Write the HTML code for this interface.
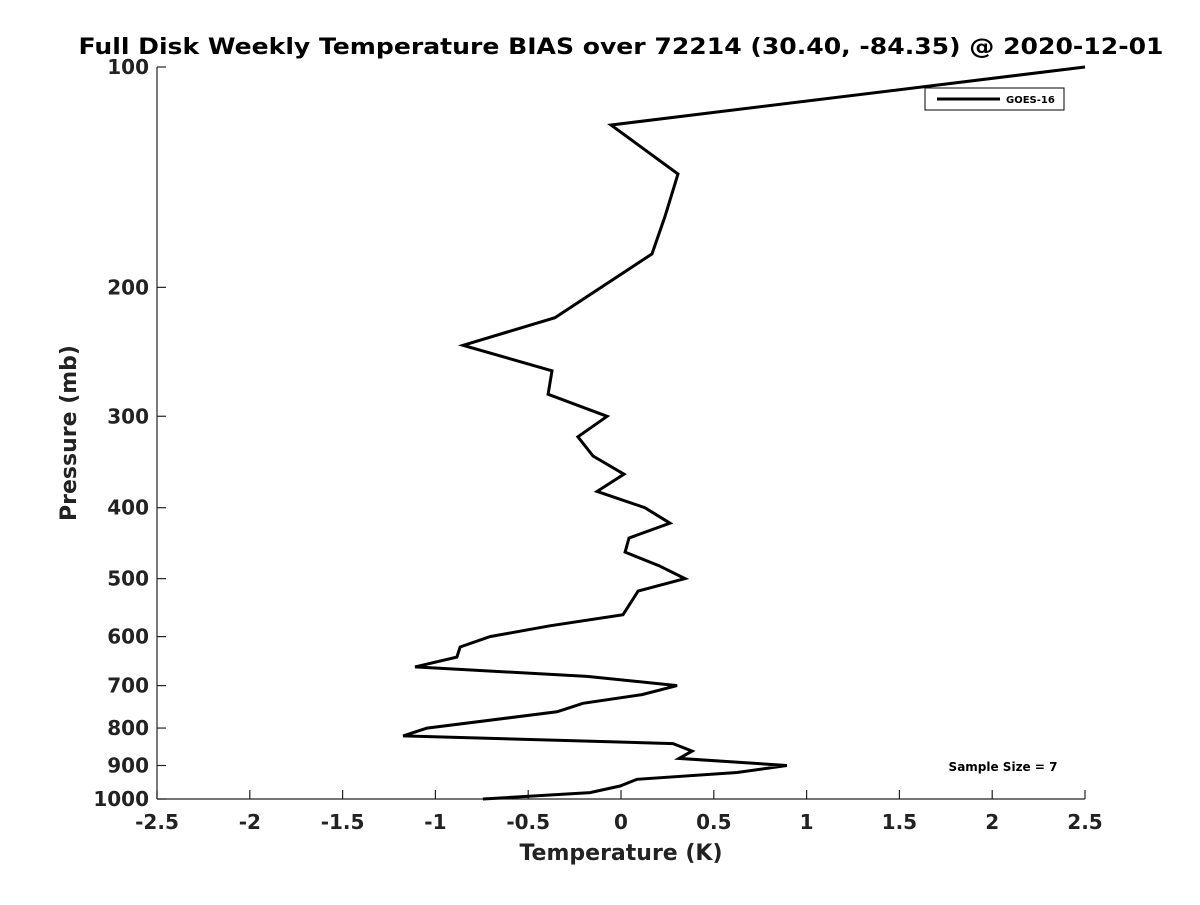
<!DOCTYPE html>
<html><head><meta charset="utf-8"><style>
body{margin:0;background:#fff}
svg{font-family:"DejaVu Sans","Liberation Sans",sans-serif}
</style></head><body>
<svg id="chart" width="1200" height="900">
<rect width="1200" height="900" fill="#fff"/>
<text x="621" y="54" text-anchor="middle" font-size="22" font-weight="bold" fill="#000" textLength="1085" lengthAdjust="spacingAndGlyphs">Full Disk Weekly Temperature BIAS over 72214 (30.40, -84.35) @ 2020-12-01</text>
<g id="axes"></g>
<polyline id="series" fill="none" stroke="#000" stroke-width="3" stroke-linejoin="miter"/>
<g>
<rect x="925" y="88" width="139" height="22" fill="#fff" stroke="#000" stroke-width="1"/>
<line x1="937" y1="99" x2="1000" y2="99" stroke="#000" stroke-width="3"/>
<text x="1006" y="103" font-size="10" font-weight="bold">GOES-16</text>
</g>
<text x="1003" y="771" text-anchor="middle" font-size="12" font-weight="bold">Sample Size = 7</text>
<text x="621" y="860" text-anchor="middle" font-size="22" font-weight="bold" fill="#222">Temperature (K)</text>
<text transform="translate(76,433) rotate(-90)" text-anchor="middle" font-size="22" font-weight="bold" fill="#222">Pressure (mb)</text>
</svg>
<script>
const pressures=[100,120,140,160,180,220,240,260,280,300,320,340,360,380,400,420,440,460,480,500,520,560,580,600,620,640,660,680,700,720,740,760,800,820,840,860,880,900,920,940,960,980,1000];
const bias=[2.5,-0.054,0.307,0.237,0.167,-0.356,-0.851,-0.372,-0.393,-0.075,-0.232,-0.151,0.016,-0.129,0.129,0.264,0.043,0.022,0.205,0.345,0.092,0.011,-0.383,-0.706,-0.867,-0.884,-1.11,-0.183,0.302,0.113,-0.205,-0.345,-1.045,-1.174,0.28,0.383,0.313,0.894,0.625,0.086,-0.005,-0.167,-0.744];
const xTicks=[-2.5,-2,-1.5,-1,-0.5,0,0.5,1,1.5,2,2.5];
const xTickLabels=["-2.5","-2","-1.5","-1","-0.5","0","0.5","1","1.5","2","2.5"];
const yTicks=[100,200,300,400,500,600,700,800,900,1000];
const L=157,R=1085,T=67,B=799;
const xs=v=>L+(v+2.5)/5*(R-L);
const ys=p=>T+Math.log10(p/100)*(B-T);
const NS="http://www.w3.org/2000/svg";
const ax=document.getElementById('axes');
function mk(tag,attrs,parent){const e=document.createElementNS(NS,tag);for(const k in attrs)e.setAttribute(k,attrs[k]);(parent||ax).appendChild(e);return e;}
const xl=mk('line',{x1:L,y1:B,x2:R,y2:B,stroke:'#222','stroke-width':1.2});


const yl=mk('line',{x1:L,y1:T,x2:L,y2:B,stroke:'#222','stroke-width':1.2});


xTicks.forEach((v,i)=>{
 const x=xs(v);
 const t=mk('line',{x1:x,y1:B,x2:x,y2:B-9,stroke:'#222','stroke-width':1.2});
 
 
 const tx=mk('text',{x:x,y:B+30,'text-anchor':'middle','font-size':20,'font-weight':'bold',fill:'#222'});
 tx.textContent=xTickLabels[i];
 
 
});
yTicks.forEach(p=>{
 const y=ys(p);
 const t=mk('line',{x1:L,y1:y,x2:L+9,y2:y,stroke:'#222','stroke-width':1.2});
 
 
 const tx=mk('text',{x:L-8,y:y+7,'text-anchor':'end','font-size':20,'font-weight':'bold',fill:'#222'});
 tx.textContent=String(p);
 
 
});
document.getElementById('series').setAttribute('points',pressures.map((p,i)=>xs(bias[i]).toFixed(1)+','+ys(p).toFixed(1)).join(' '));
</script>
</body></html>
